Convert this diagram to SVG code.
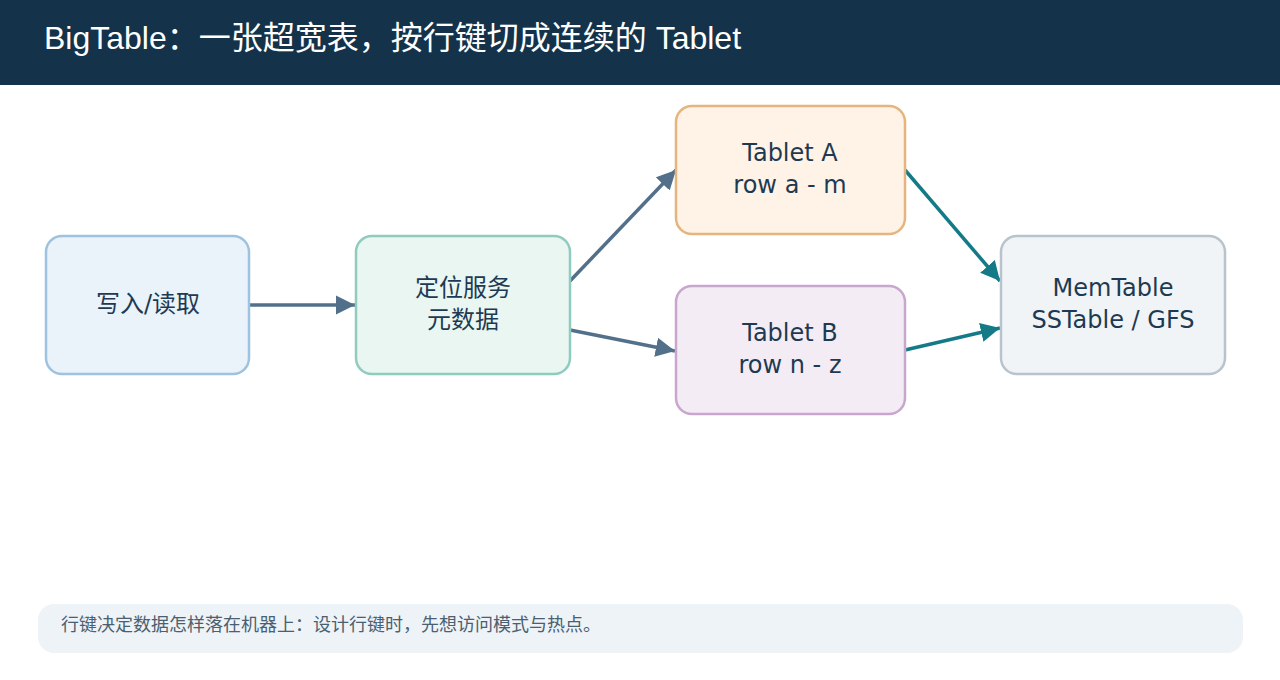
<svg xmlns="http://www.w3.org/2000/svg" width="1280" height="680" viewBox="0 0 1280 680">
<style>
.nt{font-family:"DejaVu Sans","Noto Sans CJK SC",sans-serif;font-size:24px;fill:#1e3a52;text-anchor:middle}
.box{stroke-width:2.5}
.c1{stroke:#52708a;stroke-width:3.5;fill:none}
.c2{stroke:#147a87;stroke-width:3.5;fill:none}
</style>
<defs>
<marker id="a1" viewBox="0 0 10 10" refX="10" refY="5" markerWidth="5.5" markerHeight="5.5" markerUnits="strokeWidth" orient="auto"><path d="M0,0 L10,5 L0,10 Z" fill="#52708a"/></marker>
<marker id="a2" viewBox="0 0 10 10" refX="10" refY="5" markerWidth="5.5" markerHeight="5.5" markerUnits="strokeWidth" orient="auto"><path d="M0,0 L10,5 L0,10 Z" fill="#147a87"/></marker>
</defs>
<rect x="0" y="0" width="1280" height="680" fill="#ffffff"/>
<g id="header">
<rect x="0" y="0" width="1280" height="85" fill="#14334b"/>
<text x="44" y="49" font-family="Liberation Sans,'Noto Sans CJK SC',sans-serif" font-size="32" fill="#ffffff">BigTable：一张超宽表，按行键切成连续的 Tablet</text>
</g>
<g id="connectors">
<line class="c1" x1="250" y1="305" x2="355" y2="305" marker-end="url(#a1)"/>
<line class="c1" x1="570" y1="281" x2="676" y2="170" marker-end="url(#a1)"/>
<line class="c1" x1="570" y1="330" x2="675" y2="351" marker-end="url(#a1)"/>
<line class="c2" x1="905" y1="170" x2="1000" y2="281" marker-end="url(#a2)"/>
<line class="c2" x1="905" y1="350" x2="1000" y2="328" marker-end="url(#a2)"/>
</g>
<g id="node-client">
<rect class="box" x="46" y="236" width="203" height="138" rx="16" fill="#eaf2fa" stroke="#9dc3e0"/>
<text class="nt" x="148" y="312">写入/读取</text>
</g>
<g id="node-locator">
<rect class="box" x="356" y="236" width="214" height="138" rx="16" fill="#e9f6f2" stroke="#8fcbbf"/>
<text class="nt" x="463" y="296">定位服务</text>
<text class="nt" x="463" y="328">元数据</text>
</g>
<g id="node-tablet-a">
<rect class="box" x="676" y="106" width="229" height="128" rx="16" fill="#fef3e6" stroke="#e6b57e"/>
<text class="nt" x="790" y="161">Tablet A</text>
<text class="nt" x="790" y="193">row a - m</text>
</g>
<g id="node-tablet-b">
<rect class="box" x="676" y="286" width="229" height="128" rx="16" fill="#f4ecf5" stroke="#c8a6cd"/>
<text class="nt" x="790" y="341">Tablet B</text>
<text class="nt" x="790" y="373">row n - z</text>
</g>
<g id="node-storage">
<rect class="box" x="1001" y="236" width="224" height="138" rx="16" fill="#f0f4f7" stroke="#b8c4cd"/>
<text class="nt" x="1113" y="296">MemTable</text>
<text class="nt" x="1113" y="328">SSTable / GFS</text>
</g>
<g id="footer">
<rect x="38" y="604" width="1205" height="49" rx="16" fill="#eef3f7"/>
<text x="61" y="631" font-family="'Noto Sans CJK SC',sans-serif" font-size="18" fill="#4a6070">行键决定数据怎样落在机器上：设计行键时，先想访问模式与热点。</text>
</g>
</svg>
